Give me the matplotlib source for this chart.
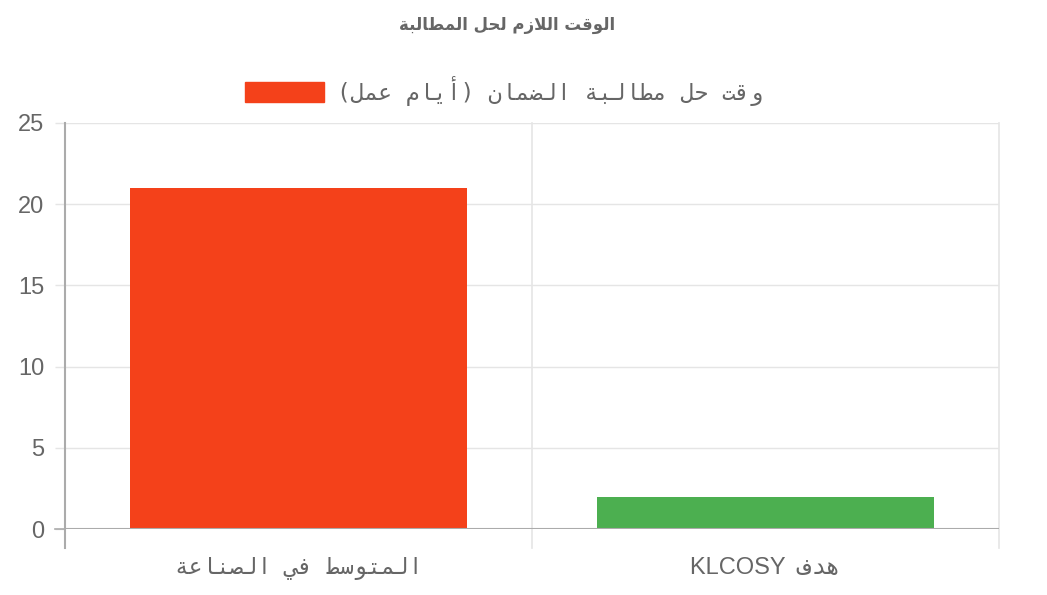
import re
import matplotlib
matplotlib.use('Agg')
import matplotlib.pyplot as plt
from matplotlib.patches import Patch

# data
title = 'الوقت اللازم لحل المطالبة'
series_name = 'وقت حل مطالبة الضمان (أيام عمل)'
categories = ['المتوسط في الصناعة', 'هدف KLCOSY']
values = [21, 2]
bar_colors = ['#f4411a', '#4caf50']
y_ticks = [0, 5, 10, 15, 20, 25]

# arabic presentation forms: isolated code point, joins on both sides
FORMS = {
    'ا': (0xFE8D, False), 'أ': (0xFE83, False), 'ب': (0xFE8F, True), 'ة': (0xFE93, False),
    'ت': (0xFE95, True), 'ح': (0xFEA1, True), 'د': (0xFEA9, False), 'ز': (0xFEAF, False),
    'س': (0xFEB1, True), 'ص': (0xFEB9, True), 'ض': (0xFEBD, True), 'ط': (0xFEC1, True),
    'ع': (0xFEC9, True), 'ف': (0xFED1, True), 'ق': (0xFED5, True), 'ل': (0xFEDD, True),
    'م': (0xFEE1, True), 'ن': (0xFEE5, True), 'ه': (0xFEE9, True), 'و': (0xFEED, False),
    'ي': (0xFEF1, True),
}
LAM_ALEF = {'ا': 0xFEFB, 'أ': 0xFEF7}
MIRROR = {'(': ')', ')': '('}


def shape(text):
    out = []
    i, n = 0, len(text)
    while i < n:
        ch = text[i]
        if ch not in FORMS:
            out.append(ch)
            i += 1
            continue
        prev = text[i - 1] if i > 0 else ''
        joins_prev = prev in FORMS and FORMS[prev][1]
        if ch == 'ل' and i + 1 < n and text[i + 1] in LAM_ALEF:
            out.append(chr(LAM_ALEF[text[i + 1]] + (1 if joins_prev else 0)))
            i += 2
            continue
        base, dual = FORMS[ch]
        nxt = text[i + 1] if i + 1 < n else ''
        joins_next = dual and nxt in FORMS
        if joins_prev and joins_next:
            code = base + 3
        elif joins_prev:
            code = base + 1
        elif joins_next:
            code = base + 2
        else:
            code = base
        out.append(chr(code))
        i += 1
    return ''.join(out)


def rtl(text):
    s = shape(text)
    runs = re.findall(r'[A-Za-z0-9]+|[^A-Za-z0-9]+', s)
    parts = []
    for r in reversed(runs):
        if r[0].isascii() and r[0].isalnum():
            parts.append(r)
        else:
            parts.append(''.join(MIRROR.get(c, c) for c in reversed(r)))
    return ''.join(parts)


def is_mixed(text):
    return re.search(r'[A-Za-z]', text) is not None


W, H = 1047, 595
text_col = '#666666'
grid_col = '#e5e5e5'
axis_col = '#ababab'

fig = plt.figure(figsize=(W / 100, H / 100), dpi=100)
ax = fig.add_axes([65 / W, (H - 529) / H, (999 - 65) / W, (529 - 123) / H])

x = list(range(len(categories)))
ax.bar(x, values, width=0.72, color=bar_colors, zorder=3)

ax.set_xlim(-0.5, len(categories) - 0.5)
ax.set_ylim(0, 25)
for s in ax.spines.values():
    s.set_visible(False)

# horizontal grid and ticks
ax.set_yticks(y_ticks)
ax.set_yticklabels([str(t) for t in y_ticks], family='Liberation Sans', fontsize=17, color=text_col)
ax.tick_params(axis='y', length=7.2, width=1, color=grid_col, pad=7.5)
for t in y_ticks[1:]:
    ax.axhline(t, color=grid_col, lw=1, zorder=1)
ax.axhline(0, color=axis_col, lw=1.5, zorder=4)
ax.plot([-0.5 - 10 / 467, -0.5], [0, 0], color=axis_col, lw=1.2, clip_on=False, zorder=4)

# vertical category boundaries extending below the axis
below = -19 / 406
for xb in [0.5, len(categories) - 0.5]:
    ax.axvline(xb, ymin=below, ymax=1, color=grid_col, lw=1.2, clip_on=False, zorder=1)
ax.axvline(-0.5, ymin=below, ymax=1, color=axis_col, lw=1.5, clip_on=False, zorder=4)

# category labels: latin in the sans face, arabic monospaced
xlabels = []
for c in categories:
    v = rtl(c)
    if is_mixed(c):
        v = v.replace(' ', '\u2002')
    xlabels.append(v)
ax.set_xticks(x)
ax.set_xticklabels(xlabels, color=text_col)
for lbl, c in zip(ax.get_xticklabels(), categories):
    if is_mixed(c):
        lbl.set_family(['Liberation Sans', 'DejaVu Sans Mono'])
        lbl.set_fontsize(17)
    else:
        lbl.set_family(['DejaVu Sans Mono'])
        lbl.set_fontsize(16.4)
ax.tick_params(axis='x', length=0, pad=20)

fig.text(507 / W, 1 - 25 / H, rtl(title), ha='center', va='center',
         fontsize=12, fontweight='bold', color=text_col, family='DejaVu Sans')

leg = fig.legend(handles=[Patch(color=bar_colors[0])], labels=[rtl(series_name)],
                 loc='center', bbox_to_anchor=(504 / W, 1 - 91 / H), frameon=False,
                 handlelength=3.5, handleheight=1.0, handletextpad=0.55,
                 prop={'family': 'DejaVu Sans Mono', 'size': 16.4})
for t in leg.get_texts():
    t.set_color(text_col)

fig.savefig('out.png', dpi=100)
